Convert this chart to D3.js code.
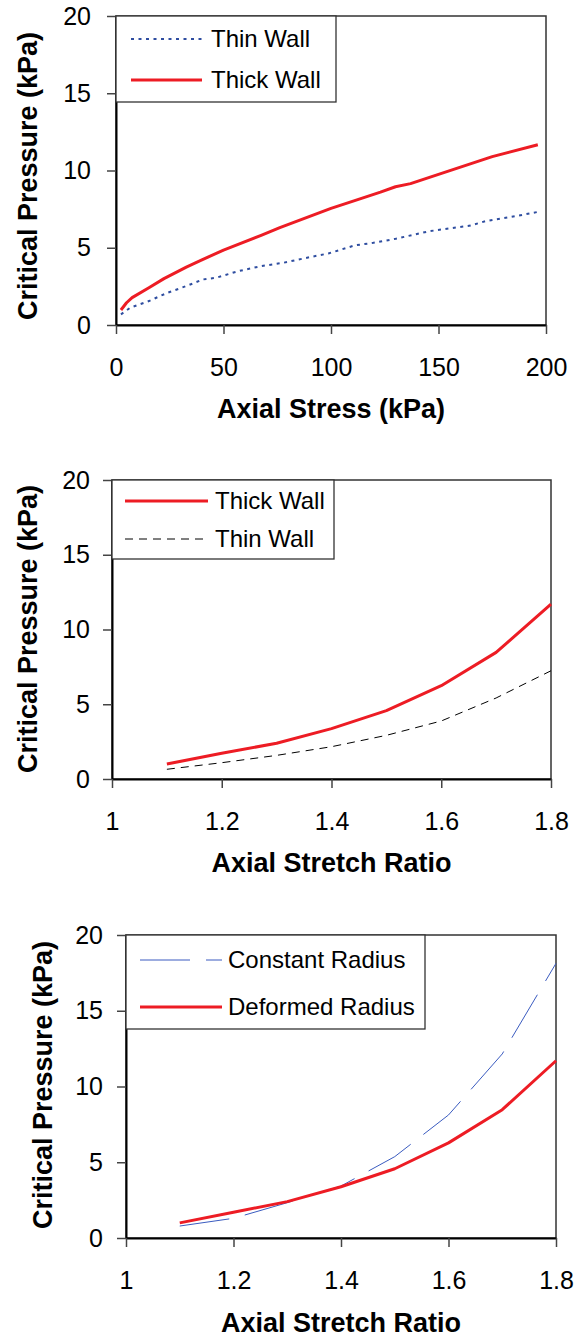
<!DOCTYPE html>
<html>
<head>
<meta charset="utf-8">
<script src="https://cdn.jsdelivr.net/npm/d3@7"></script>
<style>
  html, body { margin: 0; padding: 0; background: #fff; }
  svg { display: block; }
</style>
</head>
<body>
<div id="chart"></div>
<script>
// ---- data ----
const thinWallStress   = [2.3, 6.6, 15.3, 24, 32.7, 40.5, 46.6, 57, 67.5, 77.9, 90.1, 98.8, 111, 119.7, 130.1, 145.7, 164.9, 171.8, 185.7, 196.2];
const thinWallPressure = [0.69, 1.12, 1.55, 2.09, 2.52, 2.95, 3.06, 3.49, 3.81, 4.03, 4.39, 4.63, 5.15, 5.32, 5.58, 6.07, 6.44, 6.72, 7.04, 7.32];
const thickWallStress   = [2.3, 4.9, 7.5, 15.3, 22.3, 32.7, 39.7, 50, 67.5, 76.2, 100, 111, 123, 130, 137, 150, 175, 196.2];
const thickWallPressure = [0.97, 1.44, 1.77, 2.41, 3.0, 3.75, 4.2, 4.85, 5.8, 6.3, 7.55, 8.05, 8.6, 8.95, 9.15, 9.75, 10.9, 11.67];

const stretchRatio   = [1.1, 1.2, 1.3, 1.4, 1.5, 1.6, 1.7, 1.8];
const thickWallByRatio = [1.0, 1.72, 2.39, 3.37, 4.57, 6.24, 8.47, 11.69];
const thinWallByRatio  = [0.65, 1.09, 1.58, 2.16, 2.92, 3.88, 5.42, 7.24];
const deformedRadius   = [1.0, 1.7, 2.4, 3.38, 4.57, 6.28, 8.47, 11.7];
const constantRadius   = [0.79, 1.3, 2.33, 3.43, 5.37, 8.12, 12.15, 18.13];

const pressureTicks = [0, 5, 10, 15, 20];
const stressTicks   = [0, 50, 100, 150, 200];
const ratioTicks    = [1, 1.2, 1.4, 1.6, 1.8];

const RED = "#ed1c24";
const FONT = "'Liberation Sans', Arial, sans-serif";

const svg = d3.select("#chart").append("svg")
  .attr("width", 585)
  .attr("height", 1339)
  .style("font-family", FONT);

const zip = (xs, ys) => xs.map((x, i) => [x, ys[i]]);

function drawPanel(p) {
  const x = d3.scaleLinear().domain(p.xDomain).range([p.left, p.right]);
  const y = d3.scaleLinear().domain([0, 20]).range([p.bottom, p.top]);
  const g = svg.append("g");

  // plot frame
  g.append("rect")
    .attr("x", p.left).attr("y", p.top)
    .attr("width", p.right - p.left).attr("height", p.bottom - p.top)
    .attr("fill", "none").attr("stroke", "#333").attr("stroke-width", 1.5);

  // series
  const line = d3.line().x(d => x(d[0])).y(d => y(d[1]));
  p.series.forEach(s => {
    g.append("path")
      .datum(zip(s.xs, s.ys))
      .attr("d", line)
      .attr("fill", "none")
      .attr("stroke", s.color)
      .attr("stroke-width", s.width)
      .attr("stroke-dasharray", s.dash || null)
      .attr("stroke-linejoin", "round");
  });

  // axes
  const ya = g.append("g")
    .attr("transform", `translate(${p.left},0)`)
    .call(d3.axisLeft(y).tickValues(pressureTicks).tickSize(9).tickSizeOuter(0).tickPadding(p.yPad));
  const xa = g.append("g")
    .attr("transform", `translate(0,${p.bottom})`)
    .call(d3.axisBottom(x).tickValues(p.xTicks).tickFormat(d => String(d)).tickSize(9).tickSizeOuter(0).tickPadding(24));
  [ya, xa].forEach(a => {
    a.select(".domain").attr("stroke", "#000").attr("stroke-width", 2);
    a.selectAll(".tick line").attr("stroke", "#444").attr("stroke-width", 1.5);
    a.selectAll(".tick text")
      .attr("fill", "#000")
      .style("font-size", "25px")
      .style("font-family", FONT);
  });

  // axis titles
  g.append("text")
    .attr("x", (p.left + p.right) / 2)
    .attr("y", p.xTitleY)
    .attr("text-anchor", "middle")
    .style("font-size", "27px")
    .style("font-weight", "bold")
    .text(p.xTitle);

  g.append("text")
    .attr("transform", `translate(${p.yTitleX},${p.yTitleCY}) rotate(-90)`)
    .attr("text-anchor", "middle")
    .style("font-size", "27px")
    .style("font-weight", "bold")
    .text("Critical Pressure (kPa)");

  // legend
  const L = p.legend;
  g.append("rect")
    .attr("x", p.left).attr("y", p.top)
    .attr("width", L.right - p.left).attr("height", L.bottom - p.top)
    .attr("fill", "#fff").attr("stroke", "#333").attr("stroke-width", 1.3);
  L.items.forEach((it, i) => {
    const s = p.series[it.series];
    g.append("line")
      .attr("x1", L.x1).attr("x2", L.x2)
      .attr("y1", L.ys[i]).attr("y2", L.ys[i])
      .attr("stroke", s.color)
      .attr("stroke-width", s.width)
      .attr("stroke-dasharray", s.dash || null);
    g.append("text")
      .attr("x", L.textX)
      .attr("y", L.ys[i])
      .attr("dy", "0.35em")
      .style("font-size", "24px")
      .text(it.label);
  });
}

// Panel 1: critical pressure vs axial stress
drawPanel({
  left: 116, right: 546, top: 16, bottom: 325,
  xDomain: [0, 200], xTicks: stressTicks, yPad: 16,
  xTitle: "Axial Stress (kPa)", xTitleY: 418,
  yTitleX: 37, yTitleCY: 176,
  series: [
    { xs: thinWallStress, ys: thinWallPressure, color: "#2e4da0", width: 2, dash: "3,4.5" },
    { xs: thickWallStress, ys: thickWallPressure, color: RED, width: 3 }
  ],
  legend: {
    right: 336, bottom: 102, x1: 131, x2: 202, textX: 211, ys: [39, 80],
    items: [{ series: 0, label: "Thin Wall" }, { series: 1, label: "Thick Wall" }]
  }
});

// Panel 2: critical pressure vs axial stretch ratio
drawPanel({
  left: 112, right: 551, top: 480, bottom: 779,
  xDomain: [1, 1.8], xTicks: ratioTicks, yPad: 13,
  xTitle: "Axial Stretch Ratio", xTitleY: 872,
  yTitleX: 37, yTitleCY: 629,
  series: [
    { xs: stretchRatio, ys: thickWallByRatio, color: RED, width: 3 },
    { xs: stretchRatio, ys: thinWallByRatio, color: "#000", width: 1, dash: "8,6" }
  ],
  legend: {
    right: 334, bottom: 559, x1: 125, x2: 208, textX: 215, ys: [501, 539],
    items: [{ series: 0, label: "Thick Wall" }, { series: 1, label: "Thin Wall" }]
  }
});

// Panel 3: constant vs deformed radius
drawPanel({
  left: 126, right: 556, top: 935, bottom: 1238,
  xDomain: [1, 1.8], xTicks: ratioTicks, yPad: 14,
  xTitle: "Axial Stretch Ratio", xTitleY: 1332,
  yTitleX: 52, yTitleCY: 1085,
  series: [
    { xs: stretchRatio, ys: constantRadius, color: "#3a5bc0", width: 1, dash: "50,16" },
    { xs: stretchRatio, ys: deformedRadius, color: RED, width: 3 }
  ],
  legend: {
    right: 425, bottom: 1029, x1: 140, x2: 222, textX: 228, ys: [960, 1007],
    items: [{ series: 0, label: "Constant Radius" }, { series: 1, label: "Deformed Radius" }]
  }
});
</script>
</body>
</html>
